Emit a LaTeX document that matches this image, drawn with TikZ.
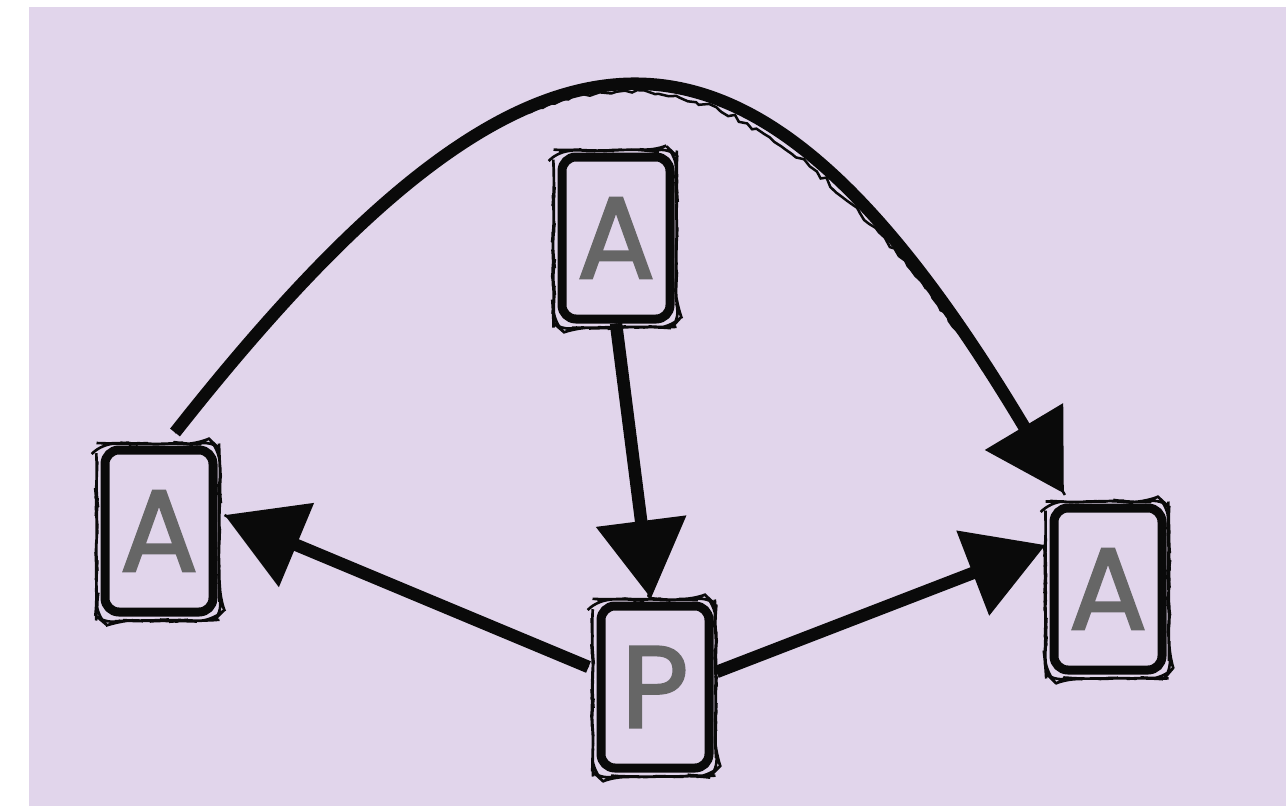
\documentclass[tikz,border=0pt]{standalone}
\usepackage{fontspec}
\newfontfamily\cardfont{Poppins}[FakeBold=2]
\usetikzlibrary{arrows.meta,decorations.pathmorphing,calc}
\definecolor{lav}{HTML}{E1D5EB}
\definecolor{ink}{HTML}{0A0A0A}
\definecolor{glyph}{HTML}{666666}
\tikzset{
  card/.style={rounded corners=14pt, minimum width=108pt, minimum height=162pt,
    inner sep=0pt, font=\cardfont\fontsize{116}{116}\selectfont, text=glyph,
    fill=lav, draw=ink, line width=9pt},
  cardrough/.style={draw=ink, line width=2.6pt, rounded corners=14pt,
    decorate, decoration={random steps, segment length=9pt, amplitude=0.8pt}},
  link/.style={draw=ink, line width=12.5pt, -{Triangle[length=78pt,width=88pt]}},
  linkrough/.style={draw=ink, line width=2.5pt,
    decorate, decoration={random steps, segment length=7pt, amplitude=2.4pt}},
}
\begin{document}
\begin{tikzpicture}[x=1pt, y=-1pt]
  \useasboundingbox (0,0) rectangle (1286,806);
  \fill[lav] (29,7) rectangle (1286,806);

  % cards
  \node[card] (A1) at (159,531) {A};
  \node[card] (A0) at (616,238) {A};
  \node[card] (P)  at (655,687) {P};
  \node[card] (A2) at (1108,589) {A};

  % second, rougher stroke around each card
  \foreach \n in {A1,A0,P,A2}{
    \draw[cardrough] ($(\n.north west)+(-4,-2)$) rectangle ($(\n.south east)+(2,4)$);
  }

  % end points of the connectors
  \coordinate (arcS) at ($(A1.north)+(16,-13)$);
  \coordinate (arcE) at ($(A2.north)+(-44,-10)$);
  \coordinate (pl) at ($(P.west)+(-8,-20)$);
  \coordinate (a1e) at ($(A1.east)+(7,-16)$);
  \coordinate (pr) at ($(P.east)+(3,-15)$);
  \coordinate (a2w) at ($(A2.west)+(-4,-44)$);
  \coordinate (pn) at ($(P.north)+(-4,-3)$);

  % chalky edges along the shafts
  \draw[linkrough] (arcS) .. controls (541,-32) and (750,-32) .. (arcE);
  \draw[linkrough] (A0.south) -- (pn);
  \draw[linkrough] (pl) -- (a1e);
  \draw[linkrough] (pr) -- (a2w);

  % connectors
  \draw[link] (arcS) .. controls (541,-32) and (750,-32) .. (arcE);
  \draw[link] (A0.south) -- (pn);
  \draw[link] (pl) -- (a1e);
  \draw[link] (pr) -- (a2w);
\end{tikzpicture}
\end{document}
